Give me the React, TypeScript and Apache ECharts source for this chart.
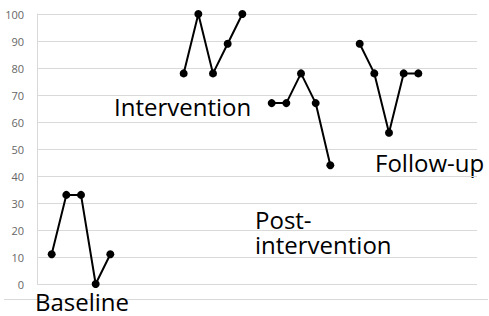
import React, { useEffect, useRef } from "react";
import * as echarts from "echarts";

const sessionCount = 31;
const baseline = [11, 33, 33, 0, 11];
const intervention = [78, 100, 78, 89, 100];
const postIntervention = [67, 67, 78, 67, 44];
const followUp = [89, 78, 56, 78, 78];
const phaseStarts = [1, 10, 16, 22];
const yTicks = { min: 0, max: 100, interval: 10 };

const categories = Array.from({ length: sessionCount }, (_, i) => String(i));

function place(values: number[], start: number) {
  const arr: (number | null)[] = Array(sessionCount).fill(null);
  values.forEach((v, i) => {
    arr[start + i] = v;
  });
  return arr;
}

export default function App() {
  const ref = useRef<HTMLDivElement>(null);
  useEffect(() => {
    document.body.style.margin = "0";
    if (!ref.current) return;
    const chart = echarts.init(ref.current, undefined, { renderer: "svg" });
    const phases = [baseline, intervention, postIntervention, followUp];
    const font = "'Open Sans', sans-serif";
    const labelStyle = { fill: "#000", fontSize: 24, fontFamily: font, lineHeight: 24 };
    chart.setOption({
      animation: false,
      grid: { left: 37, right: 12, top: 14, bottom: 32, containLabel: false },
      xAxis: {
        type: "category",
        data: categories,
        boundaryGap: false,
        axisLine: { show: false },
        axisTick: { show: false },
        axisLabel: { show: false },
        splitLine: { show: false },
      },
      yAxis: {
        type: "value",
        min: yTicks.min,
        max: yTicks.max,
        interval: yTicks.interval,
        axisLine: { show: true, lineStyle: { color: "#d9d9d9", width: 1 } },
        axisTick: { show: false },
        axisLabel: { color: "#666666", fontSize: 11, fontFamily: font, margin: 13 },
        splitLine: { lineStyle: { color: "#d9d9d9", width: 1 } },
      },
      series: phases.map((vals, k) => ({
        type: "line",
        data: place(vals, phaseStarts[k]),
        connectNulls: false,
        symbol: "circle",
        symbolSize: 8,
        lineStyle: { color: "#000", width: 2 },
        itemStyle: { color: "#000" },
      })),
      graphic: [
        {
          type: "line",
          shape: { x1: 4, y1: 299.5, x2: 488, y2: 299.5 },
          style: { stroke: "#d9d9d9", lineWidth: 1 },
        },
        {
          type: "text",
          left: 35,
          top: 289,
          style: { ...labelStyle, text: "Baseline" },
        },
        {
          type: "text",
          left: 114,
          top: 94,
          style: { ...labelStyle, text: "Intervention" },
        },
        {
          type: "text",
          left: 255,
          top: 207.5,
          style: { ...labelStyle, text: "Post-" },
        },
        {
          type: "text",
          left: 255,
          top: 232.5,
          style: { ...labelStyle, text: "intervention" },
        },
        {
          type: "text",
          left: 375,
          top: 150,
          style: { ...labelStyle, text: "Follow-up" },
        },
      ],
    });
    return () => chart.dispose();
  }, []);
  return <div ref={ref} style={{ width: 489, height: 316 }} />;
}
